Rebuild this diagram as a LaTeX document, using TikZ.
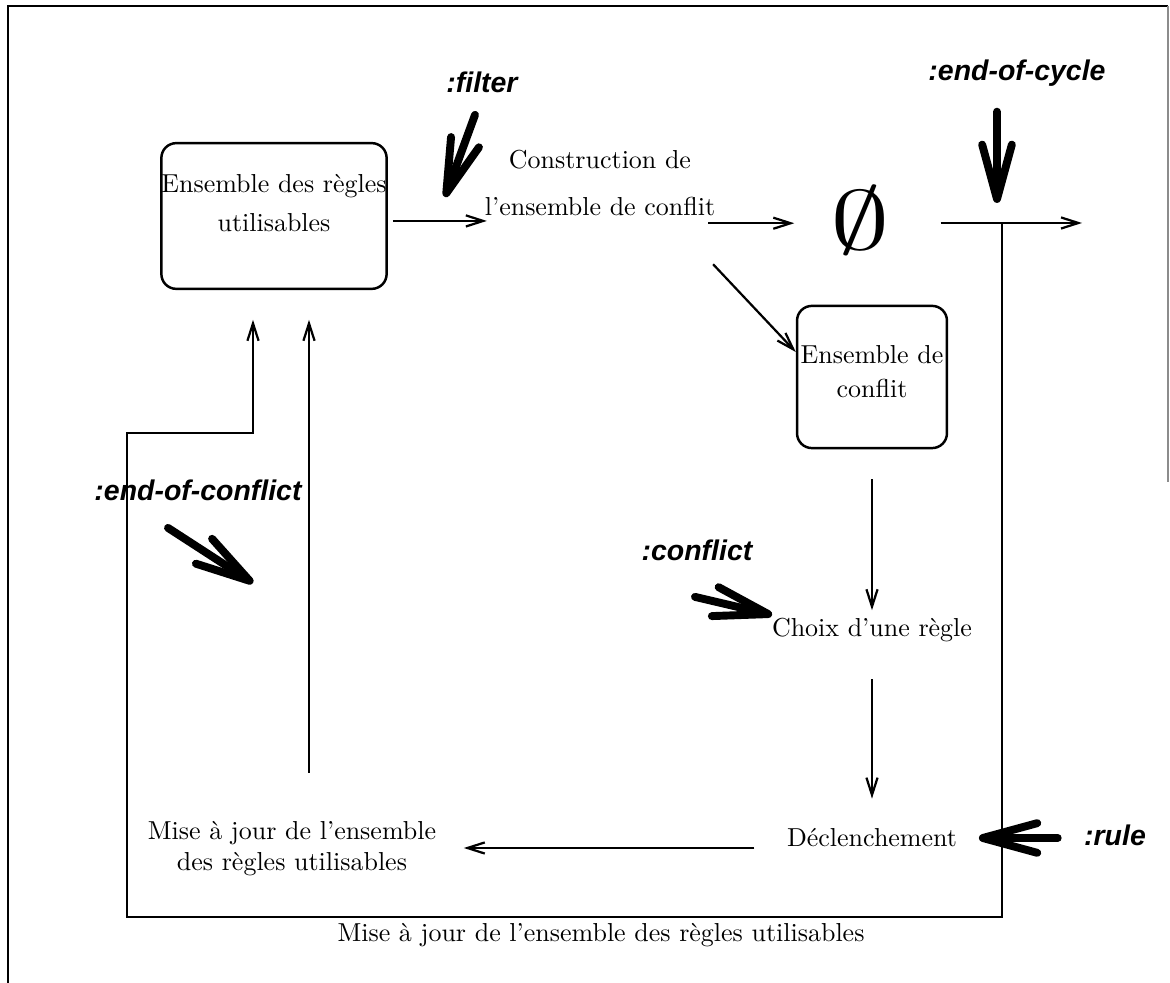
\documentclass[tikz,border=0pt]{standalone}
\usepackage{fontspec}
\usepackage{graphicx}
\usepackage{tikz}
\usetikzlibrary{positioning,arrows.meta,calc}
\newfontfamily\evtfont{Liberation Sans}
\tikzset{
  setbox/.style={draw,line width=1pt,rounded corners=6pt,align=center,inner sep=0pt},
  stagetxt/.style={align=center,inner sep=3pt},
  flow/.style={-{Straight Barb[length=7pt,width=4.5pt]},line width=0.9pt},
  evtlabel/.style={font=\fontsize{11.5}{14}\selectfont\evtfont\bfseries\itshape,inner sep=2pt},
  evtarrow/.style={-{Straight Barb[length=22pt,width=12pt,round]},line width=3.2pt,line cap=round},
}

\begin{document}
\begin{tikzpicture}[x=0.0142cm,y=-0.0142cm,font=\fontsize{10.5}{12.6}\selectfont]
  \useasboundingbox (0,0) rectangle (1170,983);
  % page frame
  \draw[line width=0.5pt] (8,983) -- (8,6) -- (1168,6);
  \draw[line width=0.5pt,black!45] (1168,6) -- (1168,482);
  % stages
  \node[setbox,minimum width=3.2cm,minimum height=2.07cm] (usable) at (274,216) {Ensemble des règles\\[3pt]utilisables\\[-2pt]\mbox{}};
  \node[stagetxt] (build)    at (600,183) {Construction de\\[6pt]l'ensemble de conflit};
  \node (empty)              at (860,220) {\scalebox{4.4}[3.1]{$\emptyset$}};
  \node[setbox,minimum width=2.13cm,minimum height=2.02cm] (conflset) at (872,377) {Ensemble de\\[1pt]conflit\\[-8pt]\mbox{}};
  \node[stagetxt] (choice)   at (872,630) {Choix d'une règle};
  \node[stagetxt] (fire)     at (872,838) {Déclenchement};
  \node[stagetxt] (update)   at (292,849) {Mise à jour de l'ensemble\\des règles utilisables};
  \node[stagetxt] (caption)  at (601,935) {Mise à jour de l'ensemble des règles utilisables};
  % event keywords
  \node[evtlabel] (filter)   at (482,82)   {:filter};
  \node[evtlabel] (endcycle) at (1017,73)  {:end-of-cycle};
  \node[evtlabel] (endconfl) at (198,490)  {:end-of-conflict};
  \node[evtlabel] (conflict) at (697,550)  {:conflict};
  \node[evtlabel] (rule)     at (1115,835) {:rule};
  % loop corners
  \coordinate (junc)   at (1002,223);
  \coordinate (exit)   at (1082,223);
  \coordinate (loopsw) at (127,917);
  \coordinate (step)   at (253,433);
  \coordinate (upline) at (309,773);
  \coordinate (firein) at ([shift={(0,10)}]fire.west);
  % main flow
  \draw[flow,shorten <=2pt,shorten >=-4pt] ([yshift=-2pt]usable.east) -- ([yshift=-2pt]usable.east -| build.west);
  \draw[flow,shorten >=11pt] ([xshift=-6pt]build.south east) -- (build.south east -| empty.west);
  \draw[flow,shorten <=17pt] (empty.east |- junc) -- (exit);
  \draw[flow] ([shift={(-10,41)}]build.south east) -- ([shift={(0,-25)}]conflset.west);
  \draw[flow,shorten <=12pt] (conflset.south) -- (choice.north);
  \draw[flow,shorten <=12pt,shorten >=9pt] (choice.south) -- (fire.north);
  \draw[flow,shorten <=10pt,shorten >=8pt] (firein) -- (firein -| update.east);
  % feedback loop
  \draw[flow,shorten >=12pt] (junc) |- (loopsw) |- (step) -- (step |- usable.south);
  \draw[flow,shorten >=12pt] (upline) -- (upline |- usable.south);
  % event arrows
  \draw[evtarrow] ([shift={(-7,17)}]filter.south) -- ([shift={(-32,14)}]build.west);
  \draw[evtarrow] ([shift={(-20,20)}]endcycle.south) -- ([shift={(-5,-20)}]junc);
  \draw[evtarrow] ([shift={(-2,31)}]conflict.south) -- ([shift={(8,-15)}]choice.west);
  \draw[evtarrow] ([shift={(-21,3)}]rule.west) -- ([shift={(14,0)}]fire.east);
  \draw[evtarrow] ([shift={(-30,22)}]endconfl.south) -- ([shift={(0,150)}]step);
\end{tikzpicture}
\end{document}
